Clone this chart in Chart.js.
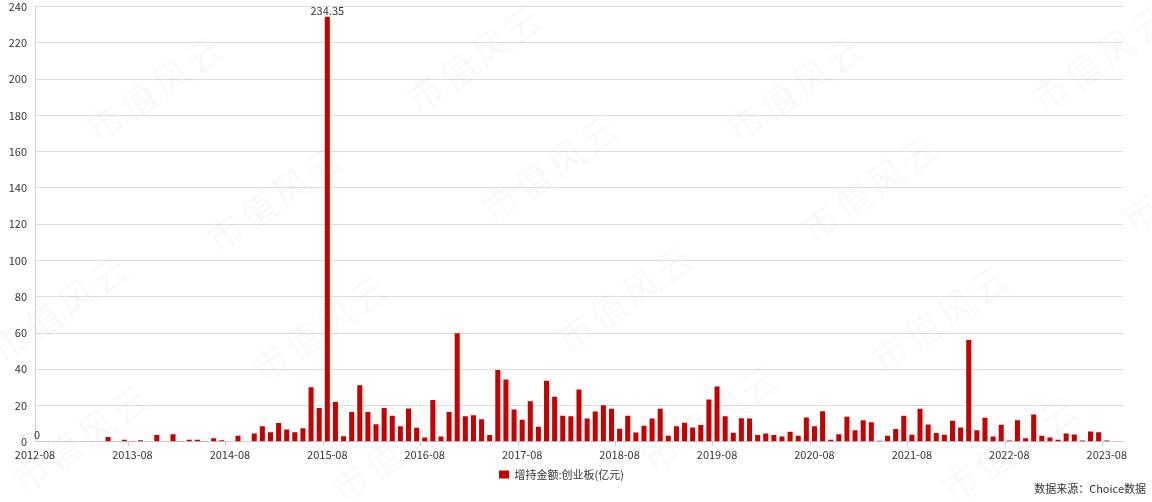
<!DOCTYPE html>
<html>
<head>
<meta charset="utf-8">
<script src="https://cdn.jsdelivr.net/npm/chart.js@4.4.0/dist/chart.umd.min.js"></script>
<style>
  html, body { margin: 0; padding: 0; background: #fff; }
  #wrap { position: relative; width: 1152px; height: 502px; overflow: hidden; }
  #myChart { position: absolute; left: 0; top: -8px; }
  .wm {
    position: absolute;
    font-family: "Noto Sans CJK SC", sans-serif;
    font-weight: 300;
    font-size: 36px;
    letter-spacing: 4px;
    color: rgba(0, 0, 0, 0.035);
    transform: rotate(-35deg);
    white-space: nowrap;
    pointer-events: none;
  }
  #source {
    position: absolute;
    right: 6px;
    bottom: 6px;
    font-family: "Noto Sans CJK SC", sans-serif;
    font-size: 11px;
    color: #333;
  }
</style>
</head>
<body>
<div id="wrap">
  <canvas id="myChart" width="1152" height="510"></canvas>
  <div id="source">数据来源：Choice数据</div>
</div>
<script>
const seriesName = "增持金额:创业板(亿元)";

// months 2012-08 .. 2023-10 (last two months have no data)
const months = [];
for (let y = 2012, m = 8; y < 2023 || (y === 2023 && m <= 10); m++) {
  if (m > 12) { m = 1; y++; }
  months.push(y + "-" + String(m).padStart(2, "0"));
}

const values = [
  0, 0, 0, 0, 0, 0, 0, 0, 0, 2.6, 0, 1.1,
  0.5, 0.9, 0, 3.7, 0, 4.2, 0.5, 1.1, 1.1, 0.5, 2.0, 0.9,
  0, 3.3, 0, 4.6, 8.6, 5.3, 10.3, 6.8, 5.3, 7.5, 30.1, 18.7,
  234.35, 22.0, 3.1, 16.5, 31.2, 16.5, 9.7, 18.7, 14.3, 8.6, 18.3, 7.7,
  2.4, 23.1, 2.9, 16.5, 59.8, 14.1, 14.7, 12.5, 3.7, 39.6, 34.3, 17.8,
  12.1, 22.4, 8.3, 33.6, 24.8, 14.3, 14.1, 28.8, 12.8, 16.7, 20.2, 18.2,
  7.2, 14.3, 5.1, 8.8, 12.8, 18.2, 3.3, 8.6, 10.5, 7.9, 9.2, 23.3,
  30.5, 14.1, 5.0, 13.0, 12.8, 3.7, 4.6, 3.7, 2.9, 5.5, 3.3, 13.4,
  8.6, 16.9, 1.1, 4.2, 13.8, 6.4, 11.9, 10.8, 0.6, 3.3, 7.0, 14.3,
  3.9, 18.2, 9.5, 4.8, 3.9, 11.6, 7.9, 56.1, 6.4, 13.2, 2.9, 9.4,
  0.7, 11.9, 2.0, 15.0, 3.3, 2.4, 1.1, 4.6, 4.0, 0.7, 5.7, 5.3,
  0.7, null, null
];

const yTicks = [0, 20, 40, 60, 80, 100, 120, 140, 160, 180, 200, 220, 240];

// watermark
const wmPos = [
  [75, 60], [395, 30], [715, 60], [1020, 30],
  [195, 170], [470, 140], [790, 160], [1110, 150],
  [-20, 280], [240, 300], [545, 270], [860, 290],
  [0, 410], [320, 420], [630, 390], [930, 420]
];
const wrap = document.getElementById("wrap");
wmPos.forEach(([x, y]) => {
  const d = document.createElement("div");
  d.className = "wm";
  d.textContent = "市值风云";
  d.style.left = x + "px";
  d.style.top = y + "px";
  wrap.appendChild(d);
});

// labels for max and min bars
const peakLabels = {
  id: "peakLabels",
  afterDatasetsDraw(chart) {
    const meta = chart.getDatasetMeta(0);
    const vals = chart.data.datasets[0].data;
    const nums = vals.filter((v) => v !== null);
    const maxI = vals.indexOf(Math.max(...nums));
    const minI = vals.indexOf(Math.min(...nums));
    const ctx = chart.ctx;
    ctx.save();
    ctx.font = "11px 'Noto Sans CJK SC', sans-serif";
    ctx.fillStyle = "#333";
    ctx.textAlign = "center";
    ctx.textBaseline = "bottom";
    [maxI, minI].forEach((i) => {
      const bar = meta.data[i];
      ctx.fillText(String(vals[i]), bar.x + (i === minI ? 2 : 0), bar.y - 1);
    });
    ctx.restore();
  },
};

Chart.defaults.font.family = "'Noto Sans CJK SC', sans-serif";
Chart.defaults.font.size = 11;
Chart.defaults.color = "#333";

new Chart(document.getElementById("myChart"), {
  type: "bar",
  data: {
    labels: months,
    datasets: [
      {
        label: seriesName,
        data: values,
        backgroundColor: "#c80000",
        categoryPercentage: 1,
        barPercentage: 0.62,
      },
    ],
  },
  options: {
    responsive: false,
    animation: false,
    layout: { padding: { top: 0, right: 29, bottom: 12, left: 0 } },
    plugins: {
      legend: {
        position: "bottom",
        labels: {
          boxWidth: 10,
          boxHeight: 8,
          padding: 6,
          font: { size: 11 },
        },
      },
      tooltip: { enabled: false },
    },
    scales: {
      x: {
        offset: false,
        grid: {
          drawOnChartArea: false,
          tickLength: 4,
          color: (c) => (c.index % 12 === 0 ? "#ccc" : "transparent"),
        },
        border: { color: "#ccc" },
        ticks: {
          autoSkip: false,
          maxRotation: 0,
          padding: 2,
          callback: (v, i) => (i % 12 === 0 ? months[i] : ""),
        },
      },
      y: {
        min: 0,
        max: 240,
        afterBuildTicks: (s) => {
          s.ticks = yTicks.map((v) => ({ value: v }));
        },
        afterFit: (s) => {
          s.width = 35;
        },
        grid: { color: "#ddd", drawTicks: false },
        border: { color: "#ccc" },
        ticks: { padding: 8 },
      },
    },
  },
  plugins: [peakLabels],
});
</script>
</body>
</html>
